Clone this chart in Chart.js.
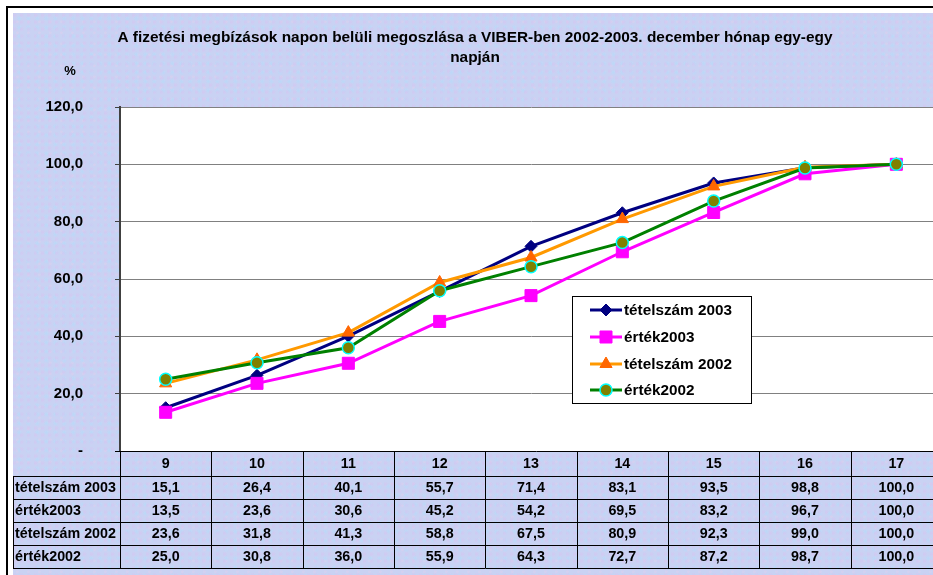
<!DOCTYPE html>
<html lang="hu">
<head>
<meta charset="utf-8">
<title>VIBER napon belüli megoszlás</title>
<script src="https://cdn.jsdelivr.net/npm/chart.js@4/dist/chart.umd.min.js"></script>
<style>
  body { margin: 0; background: #fff; overflow: hidden; font-family: Arial, "Liberation Sans", sans-serif; }
  #frame { position: absolute; left: 6px; top: 6px; width: 1000px; height: 1000px; border: 2px solid #000; }
  #bg {
    position: absolute; left: 13px; top: 13px; width: 1000px; height: 1000px;
    background-color: #c9d2f3;
    background-image:
      radial-gradient(circle at 20% 30%, rgba(215, 195, 240, 0.6) 0, rgba(215, 195, 240, 0) 3px),
      radial-gradient(circle at 70% 60%, rgba(180, 220, 250, 0.7) 0, rgba(180, 220, 250, 0) 3px),
      radial-gradient(circle at 40% 80%, rgba(230, 205, 235, 0.5) 0, rgba(230, 205, 235, 0) 2px);
    background-size: 7px 7px, 9px 9px, 11px 11px;
  }
  canvas { display: block; }
</style>
</head>
<body>
<div id="frame"></div>
<div id="bg"><canvas id="chart" width="945" height="570"></canvas></div>
<script>
// Categories: days of December
const days = ["9", "10", "11", "12", "13", "14", "15", "16", "17"];

// Series (%)
const tetelszam2003 = [15.1, 26.4, 40.1, 55.7, 71.4, 83.1, 93.5, 98.8, 100.0];
const ertek2003 = [13.5, 23.6, 30.6, 45.2, 54.2, 69.5, 83.2, 96.7, 100.0];
const tetelszam2002 = [23.6, 31.8, 41.3, 58.8, 67.5, 80.9, 92.3, 99.0, 100.0];
const ertek2002 = [25.0, 30.8, 36.0, 55.9, 64.3, 72.7, 87.2, 98.7, 100.0];

const seriesNames = ["tételszám 2003", "érték2003", "tételszám 2002", "érték2002"];

const titleLines = [
  "A fizetési megbízások napon belüli megoszlása a VIBER-ben 2002-2003. december hónap egy-egy",
  "napján"
];

const FONT = "Arial, 'Liberation Sans', sans-serif";

function fmt(v) {
  return v.toFixed(1).replace(".", ",");
}

// white plot area
const plotBackground = {
  id: "plotBackground",
  beforeDraw(chart) {
    const a = chart.chartArea;
    chart.ctx.save();
    chart.ctx.fillStyle = "#fff";
    chart.ctx.fillRect(a.left, a.top, a.right - a.left, a.bottom - a.top);
    chart.ctx.restore();
  }
};

// Title, "%" label, legend and data table drawn on top of the chart
const excelExtras = {
  id: "excelExtras",
  afterDraw(chart) {
    const ctx = chart.ctx;
    const x = chart.scales.x;
    const area = chart.chartArea;
    ctx.save();

    // Title
    ctx.fillStyle = "#000";
    ctx.font = "bold 15.4px " + FONT;
    ctx.textAlign = "center";
    ctx.textBaseline = "middle";
    ctx.fillText(titleLines[0], 462, 25);
    ctx.fillText(titleLines[1], 462, 45);

    // Unit
    ctx.font = "bold 13px " + FONT;
    ctx.fillText("%", 57, 58);

    // Data table
    const rowTops = [area.bottom, area.bottom + 25, area.bottom + 48, area.bottom + 71, area.bottom + 94, area.bottom + 117];
    const half = (x.getPixelForValue(1) - x.getPixelForValue(0)) / 2;

    ctx.strokeStyle = "#000";
    ctx.lineWidth = 1;
    ctx.beginPath();
    // header top line (x axis)
    ctx.moveTo(area.left - 5, Math.round(rowTops[0]) + 0.5);
    ctx.lineTo(chart.width, Math.round(rowTops[0]) + 0.5);
    for (let r = 1; r < rowTops.length; r++) {
      ctx.moveTo(0, rowTops[r] + 0.5);
      ctx.lineTo(chart.width, rowTops[r] + 0.5);
    }
    // left border of the label column
    ctx.moveTo(0.5, rowTops[1]);
    ctx.lineTo(0.5, rowTops[5]);
    // column separators
    for (let i = 0; i <= days.length; i++) {
      const cx = Math.round(x.getPixelForValue(i) - half) + 0.5;
      ctx.moveTo(cx, rowTops[0]);
      ctx.lineTo(cx, rowTops[5]);
    }
    ctx.stroke();

    ctx.font = "bold 14.3px " + FONT;
    ctx.textAlign = "center";
    days.forEach((d, i) => {
      ctx.fillText(d, x.getPixelForValue(i), (rowTops[0] + rowTops[1]) / 2 + 1);
    });
    chart.data.datasets.forEach((ds, r) => {
      const cy = (rowTops[r + 1] + rowTops[r + 2]) / 2 + 1;
      ctx.textAlign = "left";
      ctx.fillText(ds.label, 2, cy);
      ctx.textAlign = "center";
      ds.data.forEach((v, i) => {
        ctx.fillText(fmt(v), x.getPixelForValue(i), cy);
      });
    });

    // Legend box
    const lg = { left: 559, top: 283, right: 738, bottom: 390 };
    ctx.fillStyle = "#fff";
    ctx.fillRect(lg.left, lg.top, lg.right - lg.left, lg.bottom - lg.top);
    ctx.strokeStyle = "#000";
    ctx.lineWidth = 1;
    ctx.strokeRect(lg.left + 0.5, lg.top + 0.5, lg.right - lg.left, lg.bottom - lg.top);
    const rowY = [297, 324, 351, 377];
    chart.data.datasets.forEach((ds, i) => {
      const y = rowY[i];
      ctx.strokeStyle = ds.borderColor;
      ctx.lineWidth = 3;
      ctx.beginPath();
      ctx.moveTo(577, y);
      ctx.lineTo(609, y);
      ctx.stroke();
      ctx.fillStyle = ds.pointBackgroundColor;
      ctx.strokeStyle = ds.pointBorderColor;
      ctx.lineWidth = ds.pointBorderWidth;
      Chart.helpers.drawPoint(ctx, {
        pointStyle: ds.pointStyle,
        radius: ds.pointRadius,
        rotation: 0,
        borderWidth: ds.pointBorderWidth
      }, 593, y);
      ctx.fillStyle = "#000";
      ctx.font = "bold 15.3px " + FONT;
      ctx.textAlign = "left";
      ctx.fillText(ds.label, 611, y + 1);
    });

    ctx.restore();
  }
};

const ctx = document.getElementById("chart").getContext("2d");
const chart = new Chart(ctx, {
  type: "line",
  data: {
    labels: days,
    datasets: [
      {
        label: seriesNames[0],
        data: tetelszam2003,
        borderColor: "#000080",
        borderWidth: 3,
        pointStyle: "rectRot",
        pointRadius: 6,
        pointBackgroundColor: "#000080",
        pointBorderColor: "#000080",
        pointBorderWidth: 1,
        order: 4
      },
      {
        label: seriesNames[1],
        data: ertek2003,
        borderColor: "#ff00ff",
        borderWidth: 3,
        pointStyle: "rect",
        pointRadius: 8.5,
        pointBackgroundColor: "#ff00ff",
        pointBorderColor: "#ff00ff",
        pointBorderWidth: 1,
        order: 3
      },
      {
        label: seriesNames[2],
        data: tetelszam2002,
        borderColor: "#ff9900",
        borderWidth: 3,
        pointStyle: "triangle",
        pointRadius: 7,
        pointBackgroundColor: "#ff6600",
        pointBorderColor: "#ff6600",
        pointBorderWidth: 1,
        order: 2
      },
      {
        label: seriesNames[3],
        data: ertek2002,
        borderColor: "#008000",
        borderWidth: 3,
        pointStyle: "circle",
        pointRadius: 6,
        pointBackgroundColor: "#808000",
        pointBorderColor: "#00ffff",
        pointBorderWidth: 1.5,
        order: 1
      }
    ]
  },
  options: {
    responsive: false,
    animation: false,
    events: [],
    layout: {
      padding: { left: 0, top: 94, right: 16, bottom: 132 }
    },
    plugins: {
      legend: { display: false },
      title: { display: false },
      tooltip: { enabled: false }
    },
    scales: {
      x: {
        display: false,
        offset: true
      },
      y: {
        min: 0,
        max: 120,
        ticks: {
          stepSize: 20,
          color: "#000",
          padding: 32,
          font: { family: FONT, size: 15, weight: "bold" },
          callback: v => (v === 0 ? "-" : fmt(v))
        },
        grid: {
          color: c => (c.tick && c.tick.value === 0 ? "rgba(0,0,0,0)" : "#808080"),
          tickColor: "#404040",
          tickLength: 5,
          lineWidth: 1
        },
        border: { display: true, color: "#404040", width: 2 },
        afterFit: scale => {
          scale.width = 107;
        }
      }
    }
  },
  plugins: [plotBackground, excelExtras]
});
</script>
</body>
</html>
